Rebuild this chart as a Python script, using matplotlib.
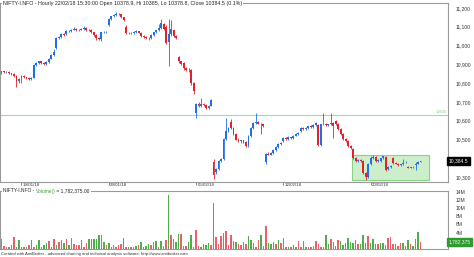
import numpy as np
import matplotlib.pyplot as plt
from matplotlib.patches import Rectangle
from matplotlib.transforms import ScaledTranslation

# hourly candles, NIFTY-I.NFO, 18/01/18 .. 22/02/18 (7 bars per day)
opens = [10855, 10862, 10858, 10860, 10852, 10850, 10840, 10810,
         10825, 10838, 10830, 10826, 10822, 10828, 10895,
         10905, 10915, 10905, 10900, 10912, 10930, 10950,
         10985, 11040, 11045, 11060, 11060, 11075, 11078,
         11085, 11090, 11080, 11085, 11088, 11092, 11082,
         11085, 11070, 11055, 11040, 11035, 11070, 11072,
         11110, 11140, 11155, 11162, 11168, 11165, 11150,
         11100, 11065, 11068, 11066, 11070, 11075, 11068,
         11050, 11045, 11040, 11038, 11055, 11070, 11080,
         11095, 11115, 11100, 11020, 11060, 11080, 11050,
         10940, 10915, 10905, 10880, 10872, 10870, 10800,
         10640, 10690, 10680, 10690, 10685, 10665, 10680,
         10380, 10325, 10345, 10385, 10395, 10505, 10545,
         10595, 10560, 10530, 10500, 10490, 10495, 10485,
         10470, 10520, 10560, 10590, 10595, 10585, 10580,
         10380, 10425, 10420, 10430, 10445, 10460, 10475,
         10490, 10510, 10505, 10512, 10508, 10520, 10530,
         10545, 10560, 10558, 10562, 10570, 10565, 10575,
         10575, 10470, 10580, 10585, 10575, 10580, 10590,
         10600, 10585, 10555, 10530, 10505, 10490, 10465,
         10450, 10400, 10385, 10390, 10385, 10320, 10300,
         10370, 10400, 10405, 10385, 10385, 10400, 10405,
         10345, 10355, 10400, 10375, 10372, 10365, 10368,
         10378, 10355, 10350, 10352, 10365, 10372, 10378.9]
highs = [10866, 10866, 10864, 10863, 10856, 10853, 10845, 10826,
         10845, 10842, 10834, 10830, 10832, 10900, 10910,
         10920, 10918, 10910, 10916, 10934, 10955, 10980,
         11045, 11050, 11064, 11064, 11080, 11082, 11086,
         11100, 11093, 11088, 11092, 11105, 11096, 11090,
         11088, 11074, 11060, 11046, 11074, 11076, 11078,
         11145, 11158, 11166, 11180, 11174, 11168, 11154,
         11110, 11072, 11072, 11075, 11080, 11078, 11070,
         11055, 11050, 11044, 11060, 11074, 11085, 11115,
         11140, 11118, 11110, 11140, 11135, 11085, 11055,
         10945, 10920, 10910, 10886, 10880, 10874, 10805,
         10695, 10700, 10720, 10695, 10690, 10685, 10715,
         10395, 10350, 10390, 10400, 10510, 10615, 10565,
         10610, 10565, 10535, 10508, 10500, 10498, 10490,
         10525, 10565, 10595, 10640, 10600, 10590, 10584,
         10430, 10432, 10436, 10450, 10464, 10480, 10486,
         10515, 10514, 10516, 10515, 10524, 10534, 10540,
         10564, 10565, 10566, 10574, 10575, 10580, 10594,
         10580, 10585, 10640, 10590, 10584, 10640, 10594,
         10605, 10590, 10560, 10535, 10510, 10495, 10470,
         10455, 10405, 10395, 10394, 10390, 10325, 10375,
         10410, 10415, 10410, 10394, 10404, 10414, 10410,
         10360, 10365, 10405, 10380, 10376, 10372, 10395,
         10386, 10358, 10356, 10358, 10378, 10384, 10385]
lows = [10850, 10852, 10852, 10846, 10842, 10832, 10780, 10800,
        10800, 10826, 10822, 10815, 10818, 10825, 10890,
        10900, 10900, 10895, 10896, 10908, 10926, 10945,
        10980, 11032, 11040, 11050, 11055, 11070, 11072,
        11080, 11076, 11075, 11080, 11084, 11078, 11078,
        11066, 11050, 11030, 11028, 11025, 11064, 11068,
        11105, 11135, 11150, 11158, 11160, 11145, 11130,
        11060, 11060, 11062, 11062, 11066, 11064, 11045,
        11040, 11036, 11030, 11034, 11050, 11066, 11076,
        11090, 11085, 11010, 10890, 11050, 11045, 11035,
        10905, 10895, 10870, 10862, 10860, 10790, 10740,
        10615, 10672, 10675, 10678, 10660, 10660, 10676,
        10290, 10315, 10340, 10380, 10390, 10500, 10540,
        10555, 10525, 10495, 10485, 10484, 10480, 10460,
        10462, 10515, 10555, 10585, 10580, 10530, 10565,
        10370, 10415, 10416, 10425, 10440, 10455, 10470,
        10485, 10500, 10500, 10504, 10504, 10516, 10526,
        10540, 10552, 10552, 10558, 10560, 10560, 10570,
        10465, 10465, 10575, 10570, 10570, 10576, 10510,
        10575, 10550, 10525, 10500, 10485, 10460, 10450,
        10395, 10380, 10380, 10380, 10315, 10285, 10295,
        10365, 10395, 10380, 10380, 10380, 10396, 10335,
        10340, 10350, 10370, 10368, 10360, 10360, 10364,
        10374, 10346, 10346, 10348, 10340, 10368, 10378.8]
closes = [10862, 10858, 10860, 10852, 10848, 10838, 10810, 10822,
          10840, 10830, 10826, 10820, 10828, 10895, 10905,
          10915, 10905, 10900, 10912, 10930, 10950, 10968,
          11040, 11045, 11060, 11055, 11075, 11078, 11082,
          11090, 11080, 11085, 11088, 11095, 11082, 11085,
          11070, 11055, 11040, 11032, 11070, 11072, 11074,
          11140, 11155, 11162, 11168, 11165, 11150, 11135,
          11065, 11068, 11066, 11070, 11075, 11068, 11050,
          11045, 11040, 11038, 11055, 11070, 11080, 11095,
          11120, 11090, 11015, 11060, 11090, 11050, 11040,
          10915, 10900, 10880, 10870, 10868, 10800, 10760,
          10690, 10680, 10690, 10685, 10665, 10680, 10710,
          10310, 10345, 10385, 10395, 10505, 10545, 10560,
          10560, 10530, 10500, 10490, 10495, 10485, 10465,
          10520, 10560, 10590, 10595, 10585, 10580, 10570,
          10425, 10420, 10430, 10445, 10460, 10475, 10480,
          10510, 10505, 10512, 10508, 10520, 10530, 10535,
          10560, 10558, 10562, 10570, 10565, 10575, 10590,
          10470, 10580, 10585, 10575, 10580, 10590, 10570,
          10580, 10555, 10530, 10505, 10490, 10465, 10455,
          10400, 10385, 10390, 10385, 10320, 10300, 10370,
          10400, 10405, 10385, 10390, 10400, 10410, 10340,
          10355, 10360, 10375, 10372, 10365, 10368, 10375,
          10382, 10350, 10352, 10355, 10372, 10380, 10384.5]

volume = [2.57, 0.72, 0.56, 0.56, 0.96, 2.97, 0.56, 2.17, 0.56, 0.56,
          0.56, 0.96, 2.17, 0.56, 0.96, 2.17, 0.56, 0.96, 1.37, 1.93,
          0.56, 2.57, 0.96, 1.77, 2.17, 1.37, 2.41, 0.96, 2.81, 1.12,
          0.96, 0.96, 2.17, 0.56, 1.37, 2.41, 2.41, 2.41, 2.41, 3.53,
          3.53, 1.77, 0.96, 1.37, 0.56, 0.96, 0.56, 0.96, 1.12, 2.73,
          0.56, 0.56, 0.56, 0.56, 0.72, 0.96, 1.61, 0.56, 0.80, 1.12,
          0.96, 1.61, 1.93, 0.56, 1.93, 0.80, 2.17, 13.2, 3.53, 2.57,
          1.61, 3.61, 3.61, 0.80, 0.80, 1.61, 3.37, 0.56, 4.74, 0.80,
          0.56, 1.12, 0.96, 1.37, 0.96, 11.3, 2.97, 1.12, 3.13, 3.93,
          4.34, 0.96, 3.37, 1.93, 1.61, 1.12, 0.96, 1.77, 1.12, 3.21,
          2.17, 1.37, 0.56, 2.17, 3.37, 0.80, 5.54, 1.37, 1.12, 1.61,
          1.12, 2.17, 1.37, 2.73, 0.56, 0.56, 0.40, 0.96, 0.56, 1.93,
          0.56, 1.93, 0.56, 0.40, 0.56, 0.80, 1.93, 1.12, 0.56, 0.56,
          3.37, 1.12, 2.33, 1.61, 0.72, 2.17, 1.93, 0.96, 1.37, 2.73,
          1.77, 1.37, 2.17, 1.12, 1.12, 3.53, 1.37, 3.21, 1.37, 2.57,
          1.12, 1.12, 1.37, 1.37, 0.96, 2.73, 2.97, 1.12, 1.12, 0.80,
          1.37, 1.37, 0.80, 2.17, 1.12, 0.80, 2.41, 4.18, 1.782375]
vol_dir = ("rrrgrrggg" "rgrgrggrg" "grgrgrrgr" "grrrrgrrg" "ggggrgrgr"
           "rrrrgrgrg" "grggggrrg" "rgrrgrrgg" "rgrgggrrg" "rggrgrrrg"
           "rrrggrrrr" "ggrrrgrrg" "ggrgrrrgr" "rgrrggrrr" "rrrrggrrr"
           "rggrgggrr" "gggrgggrg" "gr")

date_idx = [8, 43, 78, 113, 148]
date_lbl = ['19/01/18', '29/01/18', '05/02/18', '12/02/18', '20/02/18']
price_ticks = [10300, 10400, 10500, 10600, 10700, 10800, 10900, 11000, 11100, 11200]
vol_ticks = [4, 6, 8, 10, 12, 14]
level = 10630
box_x = [140.5, 171.5]
box_y = [10286, 10417]

BLUE = '#1f6fe8'
RED = '#e3202b'
FRAME = '#9a9a9a'
FONT = 'Liberation Sans'

n = len(closes)
x = np.arange(n)
o = np.array(opens)
c = np.array(closes)
up = c >= o

fig = plt.figure(figsize=(4.74, 2.57), dpi=100)
W, H = 474, 257

ax = fig.add_axes([0 / W, 1 - 182 / H, 448 / W, 179 / H])
axv = fig.add_axes([0 / W, 1 - 249 / H, 448 / W, 58 / H])
XMAX = 179

# price pane
ax.add_patch(Rectangle((box_x[0], box_y[0]), box_x[1] - box_x[0], box_y[1] - box_y[0],
                       facecolor='#cdeecb', edgecolor='#86d486', lw=0.8, zorder=0))
ax.axhline(level, color='#9be39b', lw=0.8, zorder=1)
cols = np.where(up, BLUE, RED)
ax.vlines(x, lows, highs, colors=cols, lw=0.6, zorder=2)
body_lo = np.minimum(o, c)
body_h = np.maximum(np.abs(c - o), 2)
ax.bar(x, body_h, bottom=body_lo, width=0.75, color=cols, lw=0, zorder=3)

ax.set_xlim(-0.6, XMAX)
ax.set_ylim(10274, 11226)
ax.yaxis.tick_right()
ax.set_yticks(price_ticks)
ax.set_yticklabels([f'{v:,}' for v in price_ticks], fontsize=3.6, family=FONT, color='#333333')
ax.tick_params(axis='y', length=0, pad=5.5)
ax.set_xticks(date_idx)
ax.set_xticklabels(date_lbl, fontsize=3.2, family=FONT, color='#333333', ha='left')
ax.tick_params(axis='x', length=2.2, width=0.5, color='#555555', pad=-1.3)
# date labels start just right of their tick
shift = ScaledTranslation(1.5 / 100, 0, fig.dpi_scale_trans)
for lbl in ax.get_xticklabels():
    lbl.set_transform(lbl.get_transform() + shift)
for s in ax.spines.values():
    s.set_color(FRAME)
    s.set_linewidth(0.8)

ax.text(XMAX - 0.4, level + 4, f'{level}', fontsize=3.0, family=FONT, color='#7fd47f',
        ha='right', va='bottom')
ax.text(1.002, closes[-1], f'{closes[-1]:,}', transform=ax.get_yaxis_transform(),
        fontsize=3.6, family=FONT, color='white', va='center', ha='left', zorder=10,
        bbox=dict(boxstyle='square,pad=0.3', fc='black', ec='black'))

fig.text(3 / W, 1 - 3 / H,
         'NIFTY-I.NFO - Hourly 22/02/18 15:30:00 Open 10378.9, Hi 10385, Lo 10378.8, Close 10384.5 (0.1%)',
         fontsize=3.75, family=FONT, color='#222222', va='center', ha='left',
         bbox=dict(boxstyle='square,pad=0.1', fc='white', ec='none'))

# volume pane
vcols = ['#4caf4c' if d == 'g' else '#e8606a' for d in vol_dir]
axv.bar(x, volume, width=0.6, color=vcols, lw=0)
axv.set_xlim(-0.6, XMAX)
axv.set_ylim(0, 14.2)
axv.set_xticks([])
axv.yaxis.tick_right()
axv.set_yticks(vol_ticks)
axv.set_yticklabels([f'{v}M' for v in vol_ticks], fontsize=3.6, family=FONT, color='#333333')
axv.tick_params(axis='y', length=0, pad=5.5)
for s in axv.spines.values():
    s.set_color(FRAME)
    s.set_linewidth(0.8)
axv.text(1.002, volume[-1], '1,782,375', transform=axv.get_yaxis_transform(),
         fontsize=3.6, family=FONT, color='#eaffea', va='center', ha='left', zorder=10,
         bbox=dict(boxstyle='square,pad=0.3', fc='#2f9a2f', ec='#2f9a2f'))

# volume title sits on the pane's top border, three coloured pieces
renderer = fig.canvas.get_renderer()
parts = [('NIFTY-I.NFO - ', '#222222'), ('Volume()', '#3aa03a'), (' = 1,782,375.00', '#222222')]
px = 3.0
ty = 1 - 191 / H
for s, col in parts:
    t = fig.text(px / W, ty, s, fontsize=3.5, family=FONT, color=col, va='center', ha='left', zorder=5)
    px += t.get_window_extent(renderer=renderer).width
fig.patches.append(Rectangle((2 / W, ty - 2.5 / H), (px - 1) / W, 5 / H, transform=fig.transFigure,
                             facecolor='white', edgecolor='none', zorder=4))

fig.text(1 / W, 1 - 254 / H,
         'Created with AmiBroker - advanced charting and technical analysis software. http://www.amibroker.com',
         fontsize=2.95, family=FONT, color='#333333', va='center', ha='left')

fig.savefig('out.png', dpi=100, facecolor='white')
